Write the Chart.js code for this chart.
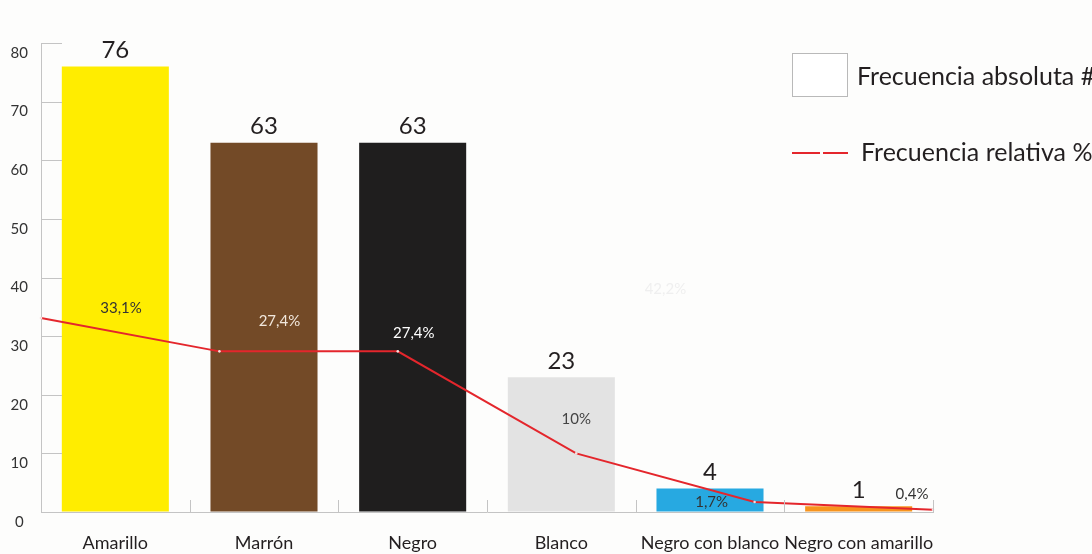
<!DOCTYPE html>
<html lang="es">
<head>
<meta charset="utf-8">
<title>Frecuencia de colores</title>
<script src="https://cdn.jsdelivr.net/npm/chart.js@4.4.1/dist/chart.umd.min.js"></script>
<style>
  html, body { margin: 0; padding: 0; background: #fdfdfc; }
  #wrap { width: 1092px; height: 554px; }
</style>
</head>
<body>
<div id="wrap"><canvas id="chart" width="1092" height="554"></canvas></div>
<script>
// Color categories and their frequencies
const categories = ['Amarillo', 'Marrón', 'Negro', 'Blanco', 'Negro con blanco', 'Negro con amarillo'];
const absoluteFreq = [76, 63, 63, 23, 4, 1];
const relativeFreq = [33.1, 27.4, 27.4, 10, 1.7, 0.4];
const yTicks = [0, 10, 20, 30, 40, 50, 60, 70, 80];
const strayNote = '42,2%';

const barColors = ['#ffed00', '#734a27', '#1f1e1e', '#e3e3e3', '#27a9e1', '#f7941d'];
const FONT = 'Lato, "Open Sans", sans-serif';
const TEXT = '#231f20';
const AXIS = '#c4c4c4';

function fmtPct(v) {
  return String(v).replace('.', ',') + '%';
}

// Percent label placement relative to each line vertex, with per-label colour
const pctLabelStyle = [
  { dx: 80, dy: -10, color: '#333333' },
  { dx: 60, dy: -30, color: '#f1e7dc' },
  { dx: 16, dy: -18, color: '#ffffff' },
  { dx: 0,  dy: -34, color: '#444444' },
  { dx: -43, dy: 0, color: '#333333' },
  { dx: -21, dy: -15, color: '#333333' }
];

const background = {
  id: 'background',
  beforeDraw(chart) {
    const ctx = chart.ctx;
    ctx.save();
    ctx.fillStyle = '#fdfdfc';
    ctx.fillRect(0, 0, chart.width, chart.height);
    ctx.restore();
  }
};

// Inward tick marks on both axes
const innerTicks = {
  id: 'innerTicks',
  afterDatasetsDraw(chart) {
    const { ctx, chartArea } = chart;
    const x = chart.scales.x, y = chart.scales.y;
    ctx.save();
    ctx.strokeStyle = AXIS;
    ctx.lineWidth = 1;
    ctx.beginPath();
    y.ticks.forEach(t => {
      if (t.value === 0) return;
      const py = Math.round(y.getPixelForValue(t.value)) + 0.5;
      ctx.moveTo(chartArea.left, py);
      ctx.lineTo(chartArea.left + 21, py);
    });
    const step = x.getPixelForValue(1) - x.getPixelForValue(0);
    for (let i = 0; i < categories.length; i++) {
      const px = Math.round(x.getPixelForValue(i) + step / 2) + 0.5;
      ctx.moveTo(px, chartArea.bottom);
      ctx.lineTo(px, chartArea.bottom - 12);
    }
    ctx.stroke();
    ctx.restore();
  }
};

// Count above each bar and percentage near each line vertex
const valueLabels = {
  id: 'valueLabels',
  afterDraw(chart) {
    const ctx = chart.ctx;
    const barMeta = chart.getDatasetMeta(0);
    const lineMeta = chart.getDatasetMeta(1);
    ctx.save();
    ctx.textAlign = 'center';
    ctx.textBaseline = 'middle';
    ctx.font = '24px ' + FONT;
    ctx.fillStyle = TEXT;
    barMeta.data.forEach((bar, i) => {
      ctx.fillText(String(absoluteFreq[i]), bar.x, bar.y - 16);
    });
    ctx.font = '15px ' + FONT;
    lineMeta.data.forEach((pt, i) => {
      const s = pctLabelStyle[i];
      ctx.fillStyle = s.color;
      ctx.fillText(fmtPct(relativeFreq[i]), pt.x + s.dx, pt.y + s.dy);
    });
    // faint leftover note between Blanco and Negro con blanco
    const x2 = chart.scales.x2, y = chart.scales.y;
    ctx.fillStyle = '#efefef';
    ctx.fillText(strayNote, (x2.getPixelForValue(3) + x2.getPixelForValue(4)) / 2, y.getPixelForValue(38));
    ctx.restore();
  }
};

// Legend drawn at the upper right, overlapping the plot
const sideLegend = {
  id: 'sideLegend',
  afterDraw(chart) {
    const ctx = chart.ctx;
    const ds = chart.data.datasets;
    ctx.save();
    ctx.fillStyle = '#ffffff';
    ctx.fillRect(792, 53, 56, 44);
    ctx.strokeStyle = '#b9b9b9';
    ctx.lineWidth = 1;
    ctx.strokeRect(792.5, 53.5, 55, 43);
    ctx.font = '25px ' + FONT;
    ctx.fillStyle = TEXT;
    ctx.textAlign = 'left';
    ctx.textBaseline = 'middle';
    ctx.fillText(ds[0].label, 857, 77);
    ctx.strokeStyle = ds[1].borderColor;
    ctx.lineWidth = 2;
    ctx.beginPath();
    ctx.moveTo(792, 153); ctx.lineTo(820, 153);
    ctx.moveTo(823, 153); ctx.lineTo(848, 153);
    ctx.stroke();
    ctx.fillText(ds[1].label, 861, 153);
    ctx.restore();
  }
};

new Chart(document.getElementById('chart'), {
  type: 'bar',
  data: {
    labels: categories,
    datasets: [
      {
        type: 'bar',
        label: 'Frecuencia absoluta #',
        data: absoluteFreq,
        backgroundColor: barColors,
        borderWidth: 0,
        grouped: false,
        barPercentage: 0.72,
        categoryPercentage: 1,
        xAxisID: 'x',
        yAxisID: 'y',
        order: 2
      },
      {
        type: 'line',
        label: 'Frecuencia relativa %',
        data: relativeFreq,
        borderColor: '#e4262c',
        borderWidth: 2,
        tension: 0,
        pointRadius: 1.3,
        pointBackgroundColor: '#f6dede',
        pointBorderWidth: 0,
        xAxisID: 'x2',
        yAxisID: 'y',
        order: 1
      }
    ]
  },
  options: {
    responsive: false,
    animation: false,
    layout: { padding: { top: 43, right: 159, left: 0, bottom: 0 } },
    plugins: {
      legend: { display: false },
      tooltip: { enabled: false }
    },
    scales: {
      x: {
        type: 'category',
        offset: true,
        grid: { display: true, drawOnChartArea: false, drawTicks: false },
        border: { display: true, color: AXIS, width: 1 },
        ticks: { color: TEXT, font: { family: FONT, size: 18 }, padding: 20, maxRotation: 0, autoSkip: false },
        afterFit(s) { s.height = 42; }
      },
      x2: {
        type: 'category',
        labels: categories,
        offset: false,
        display: false
      },
      y: {
        min: 0,
        max: 80,
        afterBuildTicks(s) { s.ticks = yTicks.map(v => ({ value: v })); },
        grid: { drawOnChartArea: false, drawTicks: false },
        border: { display: true, color: AXIS, width: 1 },
        ticks: {
          color: '#333333',
          font: { family: FONT, size: 15 },
          crossAlign: 'center',
          padding: 13,
          labelOffset: 10
        },
        afterFit(s) { s.width = 41; }
      }
    }
  },
  plugins: [background, innerTicks, valueLabels, sideLegend]
});
</script>
</body>
</html>
